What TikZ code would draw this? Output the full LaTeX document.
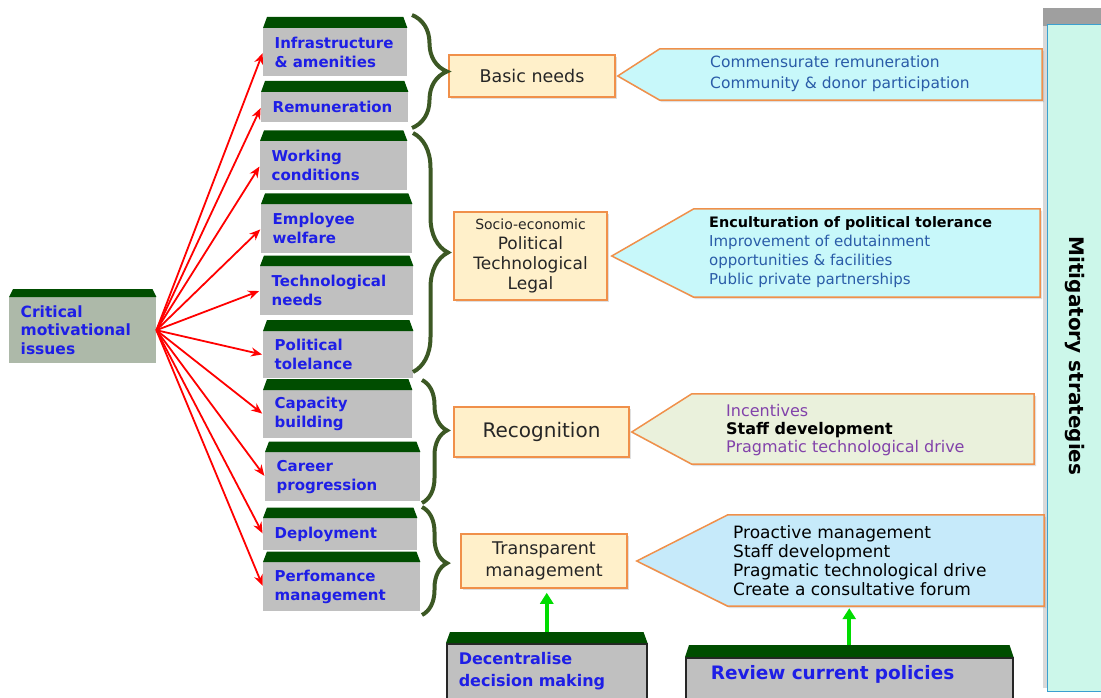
\documentclass[tikz,border=0pt]{standalone}
\usepackage{fontspec}
\setmainfont{DejaVu Sans}
\usetikzlibrary{arrows.meta}
\usetikzlibrary{decorations.pathreplacing}
\usetikzlibrary{shadows}

\definecolor{capgreen}{RGB}{0,77,0}
\definecolor{boxgray}{RGB}{192,192,192}
\definecolor{critgray}{RGB}{173,185,169}
\definecolor{issueblue}{RGB}{30,30,230}
\definecolor{bracegreen}{RGB}{60,88,36}
\definecolor{peach}{RGB}{255,240,202}
\definecolor{peachline}{RGB}{240,144,74}
\definecolor{cyanfill}{RGB}{200,248,250}
\definecolor{olivefill}{RGB}{234,241,220}
\definecolor{skyfill}{RGB}{198,234,250}
\definecolor{steeltext}{RGB}{42,92,168}
\definecolor{purpletext}{RGB}{130,66,170}
\definecolor{mintfill}{RGB}{204,247,234}
\definecolor{tealline}{RGB}{58,160,208}
\definecolor{arrowgreen}{RGB}{0,220,0}

\tikzset{
  issue/.style={fill=boxgray, anchor=north west, inner xsep=11.5pt, inner ysep=0pt, align=left, text=issueblue, font=\fontsize{15}{19}\selectfont\bfseries},
  need/.style={fill=peach, draw=peachline, line width=1.5pt, align=center, text=black!85, inner sep=0pt, drop shadow={shadow xshift=2pt, shadow yshift=-2pt, opacity=0.25}},
  calloutbody/.style={inner sep=0pt},
  callout/.style={draw=peachline, line width=1.5pt, line join=miter, drop shadow={shadow xshift=2pt, shadow yshift=-2pt, opacity=0.25}},
  tips/.style={anchor=west, align=left, inner sep=0pt},
  issuearrow/.style={red, line width=1.8pt, -{Stealth[length=11pt, width=9pt]}, shorten >=1pt},
  uparrow/.style={arrowgreen, line width=4pt, -{Triangle[length=11pt, width=13pt]}},
  curly/.style={bracegreen, line width=4pt, decorate, decoration={brace, amplitude=#1}},
  bottombox/.style={issue, draw=black!85, line width=1.5pt}
}

\begin{document}
\begin{tikzpicture}[x=1pt, y=-1pt]
        % Fix the canvas
        \useasboundingbox (0,0) rectangle (1101,698);

        % Green top of a box: node name, cap height
        \def\capin{4}
        \def\drawcap#1#2{\fill[capgreen] (#1.north west) -- ([xshift=\capin pt, yshift=#2 pt]#1.north west) -- ([xshift=-\capin pt, yshift=#2 pt]#1.north east) -- (#1.north east) -- cycle;}

        % Draw the strategies bar
        \fill[gray!75] (1043,8) rectangle (1106,26);
        \fill[gray!30] (1043,26) rectangle (1048,688);
        \node[draw=tealline, fill=mintfill, line width=1.2pt, anchor=north west, minimum width=60pt, minimum height=667pt] (bar) at (1047,24) {};
        \node[rotate=-90, font=\fontsize{20}{24}\selectfont\bfseries] (mitig) at (1075,356) {Mitigatory strategies};

        % Draw the issue boxes
        \node[issue, fill=critgray, minimum width=147pt, minimum height=66pt, text width=124pt, font=\fontsize{15.5}{18.5}\selectfont\bfseries] (crit) at (9,297) {Critical\\motivational\\issues};
        \node[issue, minimum width=144pt, minimum height=48pt, text width=121pt] (infra) at (263,28) {Infrastructure\\\& amenities};
        \node[issue, minimum width=147pt, minimum height=30pt, text width=124pt] (remun) at (261,92) {Remuneration};
        \node[issue, minimum width=147pt, minimum height=49pt, text width=124pt] (work) at (260,141) {Working\\conditions};
        \node[issue, minimum width=151pt, minimum height=49pt, text width=128pt] (welfare) at (261,204) {Employee\\welfare};
        \node[issue, minimum width=153pt, minimum height=49pt, text width=130pt] (techno) at (260,266) {Technological\\needs};
        \node[issue, minimum width=150pt, minimum height=47pt, text width=127pt] (polit) at (263,331) {Political\\tolelance};
        \node[issue, minimum width=149pt, minimum height=48pt, text width=126pt] (capac) at (263,390) {Capacity\\building};
        \node[issue, minimum width=155pt, minimum height=49pt, text width=132pt] (career) at (265,452) {Career\\progression};
        \node[issue, minimum width=154pt, minimum height=32pt, text width=131pt] (deploy) at (263,518) {Deployment};
        \node[issue, minimum width=157pt, minimum height=49pt, text width=134pt] (perfo) at (263,562) {Perfomance\\management};

        % Draw the bottom boxes
        \node[bottombox, inner xsep=12pt, minimum width=200pt, minimum height=55pt, text width=176pt, font=\fontsize{16}{22.5}\selectfont\bfseries] (decent) at (446,643) {Decentralise\\decision making};
        \node[bottombox, inner xsep=25pt, minimum width=327pt, minimum height=41pt, text width=277pt, text depth=12pt, font=\fontsize{18.5}{22}\selectfont\bfseries] (review) at (685,657) {Review current policies};

        % Draw the areas
        \node[need, minimum width=166pt, minimum height=42pt, font=\fontsize{17.5}{21}\selectfont] (basic) at (532,76) {Basic needs};
        \node[need, minimum width=153pt, minimum height=88pt, font=\fontsize{17}{20}\selectfont] (socio) at (530.5,256) {{\fontsize{14}{20}\selectfont Socio-economic}\\Political\\Technological\\Legal};
        \node[need, minimum width=175pt, minimum height=50pt, font=\fontsize{20}{24}\selectfont] (recog) at (541.5,432) {Recognition};
        \node[need, minimum width=166pt, minimum height=54pt, font=\fontsize{17.5}{22}\selectfont] (transp) at (544,561) {Transparent\\management};

        % Draw the callouts
        \coordinate (tip1) at ([xshift=2pt]basic.east);
        \coordinate (tip2) at ([xshift=4pt]socio.east);
        \coordinate (tip3) at ([xshift=2pt]recog.east);
        \coordinate (tip4) at ([xshift=9pt]transp.east);
        \node[calloutbody, minimum width=382pt, minimum height=51pt] (cb1) at (851,74.5) {};
        \node[calloutbody, minimum width=346pt, minimum height=88pt] (cb2) at (867,253) {};
        \node[calloutbody, minimum width=342pt, minimum height=70pt] (cb3) at (863,429) {};
        \node[calloutbody, minimum width=316pt, minimum height=91pt] (cb4) at (886,560.5) {};
        \draw[callout, fill=cyanfill] (tip1) -- (cb1.north west) -- (cb1.north east) -- (cb1.south east) -- (cb1.south west) -- cycle;
        \draw[callout, fill=cyanfill] (tip2) -- (cb2.north west) -- (cb2.north east) -- (cb2.south east) -- (cb2.south west) -- cycle;
        \draw[callout, fill=olivefill] (tip3) -- (cb3.north west) -- (cb3.north east) -- (cb3.south east) -- (cb3.south west) -- cycle;
        \draw[callout, fill=skyfill] (tip4) -- (cb4.north west) -- (cb4.north east) -- (cb4.south east) -- (cb4.south west) -- cycle;

        % Callout texts
        \node[tips, text=steeltext, font=\fontsize{15.5}{21}\selectfont] (ct1) at (710,74) {Commensurate remuneration\\Community \& donor participation};
        \node[tips, text=steeltext, font=\fontsize{15}{19}\selectfont] (ct2) at (709,252.5) {\textcolor{black}{\fontsize{14.4}{19}\selectfont\bfseries Enculturation of political tolerance}\\Improvement of edutainment\\opportunities \& facilities\\Public private partnerships};
        \node[tips, text=purpletext, font=\fontsize{16}{18}\selectfont] (ct3) at (726,430) {Incentives\\\textcolor{black}{\bfseries Staff development}\\Pragmatic technological drive};
        \node[tips, text=black, font=\fontsize{17}{19}\selectfont] (ct4) at (733,561) {Proactive management\\Staff development\\Pragmatic technological drive\\Create a consultative forum};

        % Draw the braces
        \coordinate (b1s) at (412,15);
        \coordinate (b1e) at (412,128);
        \coordinate (b2s) at (413,133);
        \coordinate (b2e) at (413,372);
        \coordinate (b3s) at (422,380);
        \coordinate (b3e) at (422,503);
        \coordinate (b4s) at (422,507);
        \coordinate (b4e) at (422,615);
        \draw[curly=35pt] (b1s) -- (b1e);
        \draw[curly=35pt] (b2s) -- (b2e);
        \draw[curly=25pt, decoration={aspect=0.41}] (b3s) -- (b3e);
        \draw[curly=25pt, decoration={aspect=0.52}] (b4s) -- (b4e);

        % Draw the issue arrows
        \draw[issuearrow] (crit.east) -- (infra.west);
        \draw[issuearrow] (crit.east) -- (remun.west);
        \draw[issuearrow] (crit.east) -- (work.west);
        \draw[issuearrow] (crit.east) -- (welfare.west);
        \draw[issuearrow] (crit.east) -- (techno.west);
        \draw[issuearrow] (crit.east) -- (polit.west);
        \draw[issuearrow] (crit.east) -- (capac.west);
        \draw[issuearrow] (crit.east) -- (career.west);
        \draw[issuearrow] (crit.east) -- (deploy.west);
        \draw[issuearrow] (crit.east) -- (perfo.west);

        % Draw the green arrows
        \draw[uparrow, shorten >=4pt] (decent.north) -- (decent.north |- transp.south);
        \draw[uparrow, shorten >=2pt] (review.north) -- (review.north |- cb4.south);

        % Draw the caps
        \drawcap{crit}{8}
        \drawcap{infra}{11}
        \drawcap{remun}{11}
        \drawcap{work}{10.5}
        \drawcap{welfare}{10.5}
        \drawcap{techno}{10.5}
        \drawcap{polit}{11}
        \drawcap{capac}{11}
        \drawcap{career}{10.5}
        \drawcap{deploy}{10.5}
        \drawcap{perfo}{10.5}
        \drawcap{decent}{11}
        \drawcap{review}{12}
\end{tikzpicture}
\end{document}
